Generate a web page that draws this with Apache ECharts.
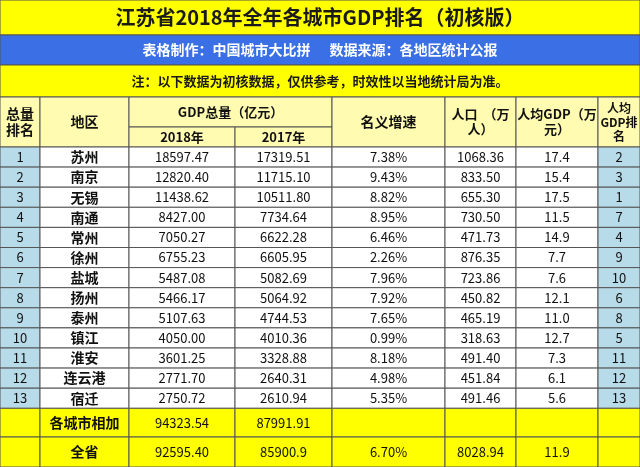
<!DOCTYPE html>
<html>
<head>
<meta charset="utf-8">
<script src="https://cdn.jsdelivr.net/npm/echarts@6/dist/echarts.min.js"></script>
<style>html,body{margin:0;padding:0;background:#fff}#main{width:640px;height:467px}</style>
</head>
<body>
<div id="main"></div>
<script>
// 数据
var ranks = ['1','2','3','4','5','6','7','8','9','10','11','12','13'];
var cities = ['苏州','南京','无锡','南通','常州','徐州','盐城','扬州','泰州','镇江','淮安','连云港','宿迁'];
var gdp2018 = ['18597.47','12820.40','11438.62','8427.00','7050.27','6755.23','5487.08','5466.17','5107.63','4050.00','3601.25','2771.70','2750.72'];
var gdp2017 = ['17319.51','11715.10','10511.80','7734.64','6622.28','6605.95','5082.69','5064.92','4744.53','4010.36','3328.88','2640.31','2610.94'];
var growth = ['7.38%','9.43%','8.82%','8.95%','6.46%','2.26%','7.96%','7.92%','7.65%','0.99%','8.18%','4.98%','5.35%'];
var population = ['1068.36','833.50','655.30','730.50','471.73','876.35','723.86','450.82','465.19','318.63','491.40','451.84','491.46'];
var perCapita = ['17.4','15.4','17.5','11.5','14.9','7.7','7.6','12.1','11.0','12.7','7.3','6.1','5.6'];
var perCapitaRank = ['2','3','1','7','4','9','10','6','8','5','11','12','13'];
var sumRow = ['', '各城市相加', '94323.54', '87991.91', '', '', '', ''];
var totalRow = ['', '全省', '92595.40', '85900.9', '6.70%', '8028.94', '11.9', ''];

var title = '江苏省2018年全年各城市GDP排名（初核版）';
var subtitle = '表格制作：中国城市大比拼      数据来源：各地区统计公报';
var note = '注：以下数据为初核数据，仅供参考，时效性以当地统计局为准。';

// 版式
var colEdges = [0, 40, 129, 235, 332, 445, 516, 598, 640];
var headTop = 97, headMid = 127, headBottom = 147, rowH = 20.1;

var cells = [];
function cell(x0, y0, x1, y1, text, fill, color, size, bold) {
  cells.push([x0, y0, x1, y1, text, fill, color || '#111', size || 13, bold ? 1 : 0]);
}
cell(0, 0, 640, 35, title, '#ffff00', '#1a1a1a', 20, true);
cell(0, 35, 640, 65, subtitle, '#3a6fe6', '#ffffff', 14, true);
cell(0, 65, 640, 97, note, '#ffff00', '#1a1a1a', 13, true);

var hd = '#fffbb0';
cell(colEdges[0], headTop, colEdges[1], headBottom, '总量\n排名', hd, '#111', 14, true);
cell(colEdges[1], headTop, colEdges[2], headBottom, '地区', hd, '#111', 14, true);
cell(colEdges[2], headTop, colEdges[4], headMid, 'GDP总量（亿元）', hd, '#111', 13, true);
cell(colEdges[2], headMid, colEdges[3], headBottom, '2018年', hd, '#111', 13, true);
cell(colEdges[3], headMid, colEdges[4], headBottom, '2017年', hd, '#111', 13, true);
cell(colEdges[4], headTop, colEdges[5], headBottom, '名义增速', hd, '#111', 14, true);
cell(colEdges[5], headTop, colEdges[6], headBottom, '人口  （万\n人）', hd, '#111', 13, true);
cell(colEdges[6], headTop, colEdges[7], headBottom, '人均GDP（万\n元）', hd, '#111', 13, true);
cell(colEdges[7], headTop, colEdges[8], headBottom, '人均\nGDP排\n名', hd, '#111', 12, true);

var cols = [ranks, cities, gdp2018, gdp2017, growth, population, perCapita, perCapitaRank];
for (var r = 0; r < ranks.length; r++) {
  var y0 = headBottom + r * rowH, y1 = y0 + rowH;
  for (var c = 0; c < cols.length; c++) {
    var fill = (c === 0 || c === 7) ? '#b7dbe8' : '#ffffff';
    cell(colEdges[c], y0, colEdges[c + 1], y1, cols[c][r], fill, '#111', c === 1 ? 14 : 13, c === 1);
  }
}
var sumTop = headBottom + ranks.length * rowH;
[[sumRow, sumTop, 437], [totalRow, 437, 467]].forEach(function (s) {
  for (var c = 0; c < 8; c++) {
    cell(colEdges[c], s[1], colEdges[c + 1], s[2], s[0][c], '#ffff00', '#111', c === 1 ? 14 : 13, c === 1);
  }
});

var myChart = echarts.init(document.getElementById('main'));
var option = {
  animation: false,
  grid: { left: 0, right: 0, top: 0, bottom: 0 },
  xAxis: { type: 'value', min: 0, max: 640, show: false },
  yAxis: { type: 'value', min: 0, max: 467, inverse: true, show: false },
  series: [{
    type: 'custom',
    data: cells,
    renderItem: function (params, api) {
      var p0 = api.coord([api.value(0), api.value(1)]);
      var p1 = api.coord([api.value(2), api.value(3)]);
      var d = cells[params.dataIndex];
      return {
        type: 'group',
        children: [{
          type: 'rect',
          shape: { x: p0[0], y: p0[1], width: p1[0] - p0[0], height: p1[1] - p0[1] },
          style: { fill: d[5], stroke: '#555', lineWidth: 1 }
        }, {
          type: 'text',
          x: (p0[0] + p1[0]) / 2,
          y: (p0[1] + p1[1]) / 2,
          style: {
            text: d[4],
            fill: d[6],
            font: (d[8] ? 'bold ' : '') + d[7] + 'px "Noto Sans CJK SC", sans-serif',
            align: 'center',
            verticalAlign: 'middle',
            lineHeight: d[7] + 2
          }
        }]
      };
    }
  }]
};
myChart.setOption(option);
</script>
</body>
</html>
